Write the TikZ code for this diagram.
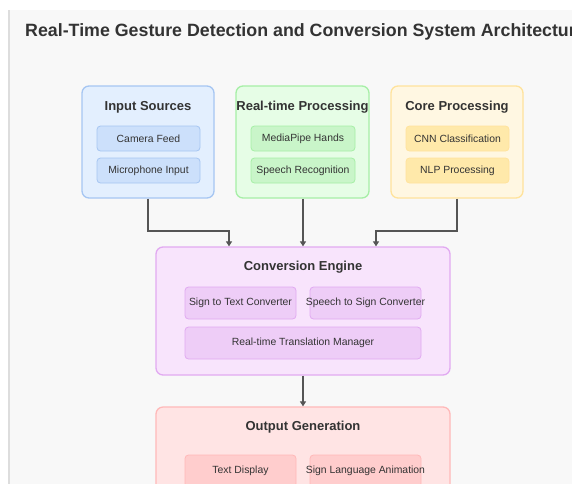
\documentclass[tikz,border=0pt]{standalone}
\usepackage{fontspec}
\setmainfont{Liberation Sans}
\usetikzlibrary{arrows.meta,calc}
\newcommand\zw[1]{\makebox[0pt]{#1}}
\definecolor{panel}{HTML}{F8F8F8}
\definecolor{panelline}{HTML}{DDDDDD}
\definecolor{txt}{HTML}{333333}
\definecolor{arrc}{HTML}{555555}
\definecolor{bfill}{HTML}{E3EFFE}\definecolor{bline}{HTML}{A6C6F2}\definecolor{bsub}{HTML}{CCE0FB}
\definecolor{gfill}{HTML}{E6FDE6}\definecolor{gline}{HTML}{A6EFA6}\definecolor{gsub}{HTML}{C9F5C9}
\definecolor{yfill}{HTML}{FFF7E2}\definecolor{yline}{HTML}{FFE39C}\definecolor{ysub}{HTML}{FFE9AA}
\definecolor{pfill}{HTML}{F8E4FC}\definecolor{pline}{HTML}{E1AAF1}\definecolor{psub}{HTML}{EECDF7}
\definecolor{rfill}{HTML}{FFE4E4}\definecolor{rline}{HTML}{FFB9B9}\definecolor{rsub}{HTML}{FFCDCD}
\tikzset{
  grp/.style={draw=#1line, fill=#1fill, line width=1.3pt, rounded corners=7pt, inner sep=0pt},
  subbox/.style={draw=#1line, fill=#1sub, line width=0.8pt, rounded corners=3.5pt, inner sep=0pt,
    font=\fontsize{10.4}{12}\selectfont, text=txt},
  grptitle/.style={font=\bfseries\fontsize{13}{15}\selectfont, text=txt, inner sep=0pt},
  arr/.style={draw=arrc, line width=1.4pt, -{Triangle[width=6pt,length=5pt]}},
}
\begin{document}
\begin{tikzpicture}[x=1pt,y=-1pt]
\clip (0,0) rectangle (572,483);
\fill[white] (0,0) rectangle (572,483);
\fill[panel] (8,10) rectangle (580,490);
\draw[panelline, line width=1.5pt] (8.75,10) -- (8.75,490);
\node[anchor=west, font=\bfseries\fontsize{17.8}{21}\selectfont, text=txt, inner sep=0pt] (title) at (25,32) {Real-Time Gesture Detection and Conversion System Architecture};

% Input Sources
\node[grp=b, minimum width=132pt, minimum height=112pt] (inp) at (148,142) {};
\node[grptitle] (inpt) at (148,107) {Input Sources};
\node[subbox=b, minimum width=103pt, minimum height=25pt] (cam) at (148.5,138.5) {\zw{Camera Feed}};
\node[subbox=b, minimum width=103pt, minimum height=25pt] (mic) at (148.5,170.5) {\zw{Microphone Input}};

% Real-time Processing
\node[grp=g, minimum width=133pt, minimum height=112pt] (rtp) at (302.5,142) {};
\node[grptitle] (rtpt) at (302.5,107) {Real-time Processing};
\node[subbox=g, minimum width=104pt, minimum height=25pt] (mph) at (303,138.5) {\zw{MediaPipe Hands}};
\node[subbox=g, minimum width=104pt, minimum height=25pt] (spr) at (303,170.5) {\zw{Speech Recognition}};

% Core Processing
\node[grp=y, minimum width=132pt, minimum height=112pt] (core) at (457,142) {};
\node[grptitle] (coret) at (457,107) {Core Processing};
\node[subbox=y, minimum width=103pt, minimum height=25pt] (cnn) at (457.5,138.5) {\zw{CNN Classification}};
\node[subbox=y, minimum width=103pt, minimum height=25pt] (nlp) at (457.5,170.5) {\zw{NLP Processing}};

% Conversion Engine
\node[grp=p, minimum width=294pt, minimum height=128pt] (conv) at (303,311) {};
\node[grptitle] (convt) at (303,267) {Conversion Engine};
\node[subbox=p, minimum width=111pt, minimum height=32pt] (s2t) at (240.5,303) {\zw{Sign to Text Converter}};
\node[subbox=p, minimum width=111pt, minimum height=32pt] (sp2s) at (365.5,303) {\zw{Speech to Sign Converter}};
\node[subbox=p, minimum width=236pt, minimum height=32pt] (rttm) at (303,343) {\zw{Real-time Translation Manager}};

% Output Generation
\node[grp=r, minimum width=294pt, minimum height=128pt] (out) at (303,471) {};
\node[grptitle] (outt) at (303,427) {Output Generation};
\node[subbox=r, minimum width=111pt, minimum height=32pt] (td) at (240.5,471) {\zw{Text Display}};
\node[subbox=r, minimum width=111pt, minimum height=32pt] (sla) at (365.5,471) {\zw{Sign Language Animation}};

% connectors
\coordinate (j1) at (229,231);
\coordinate (j3) at (376,231);
\draw[arr] (inp.south) |- (j1) -- (j1 |- conv.north);
\draw[arr] (rtp.south -| conv.north) -- (conv.north);
\draw[arr] (core.south) |- (j3) -- (j3 |- conv.north);
\draw[arr] (conv.south) -- (out.north);
\end{tikzpicture}
\end{document}
